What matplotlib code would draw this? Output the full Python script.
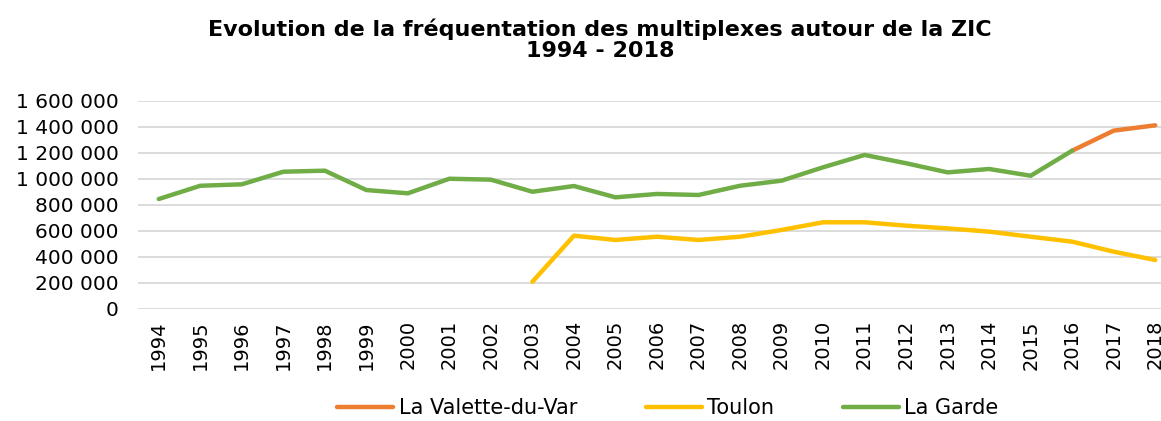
import numpy as np
import matplotlib
matplotlib.use("Agg")
import matplotlib.pyplot as plt
from matplotlib.ticker import FuncFormatter

years = list(range(1994, 2019))

# La Garde : 1994 -> 2016
garde = [846000, 948000, 959000, 1056000, 1064000, 915000, 890000, 1002000, 995000,
         902000, 946000, 859000, 885000, 877000, 948000, 987000, 1090000, 1185000,
         1121000, 1051000, 1077000, 1025000, 1218000]
# Toulon : 2003 -> 2018
toulon = [210000, 564000, 531000, 556000, 531000, 556000, 608000, 667000, 667000,
          641000, 620000, 595000, 556000, 518000, 441000, 377000]
# La Valette-du-Var : 2016 -> 2018
valette = [1218000, 1372000, 1413000]

def pad(vals, start):
    # fill years without data with NaN
    out = [np.nan] * len(years)
    i0 = years.index(start)
    out[i0:i0 + len(vals)] = vals
    return out

fig = plt.figure(figsize=(11.61, 4.21), dpi=100)
ax = fig.add_axes([138 / 1161, 112 / 421, (1176 - 138) / 1161, 208 / 421])

x = np.arange(len(years))
lw = 3.2
ax.plot(x, pad(valette, 2016), color="#ED7D31", lw=lw, solid_capstyle="round",
        solid_joinstyle="round", label="La Valette-du-Var")
ax.plot(x, pad(toulon, 2003), color="#FFC000", lw=lw, solid_capstyle="round",
        solid_joinstyle="round", label="Toulon")
ax.plot(x, pad(garde, 1994), color="#70AD47", lw=lw, solid_capstyle="round",
        solid_joinstyle="round", label="La Garde")

ax.set_xlim(-0.5, len(years) - 0.5)
ax.set_ylim(0, 1600000)
ax.set_yticks(np.arange(0, 1600001, 200000))
ax.yaxis.set_major_formatter(FuncFormatter(lambda v, p: f"{int(v):,}".replace(",", " ")))
ax.set_xticks(x)
ax.set_xticklabels([str(y) for y in years], rotation=90)

ax.grid(axis="y", color="#D9D9D9", lw=1.3)
ax.set_axisbelow(True)
for s in ax.spines.values():
    s.set_visible(False)
ax.tick_params(axis="both", length=0, labelsize=14, colors="black")
ax.tick_params(axis="y", labelsize=14.5, pad=14)
ax.tick_params(axis="x", pad=8)

fig.text(600 / 1161, 1 - 29 / 421, "Evolution de la fréquentation des multiplexes autour de la ZIC",
         ha="center", va="center", fontsize=16, fontweight="bold")
fig.text(600 / 1161, 1 - 51 / 421, "1994 - 2018",
         ha="center", va="center", fontsize=16, fontweight="bold")

fig.legend(loc="center", bbox_to_anchor=(668 / 1161, 13 / 421), ncol=3, frameon=False,
           fontsize=15, handlelength=2.7, handletextpad=0.25, columnspacing=3.3)

fig.savefig("out.png", dpi=100)
